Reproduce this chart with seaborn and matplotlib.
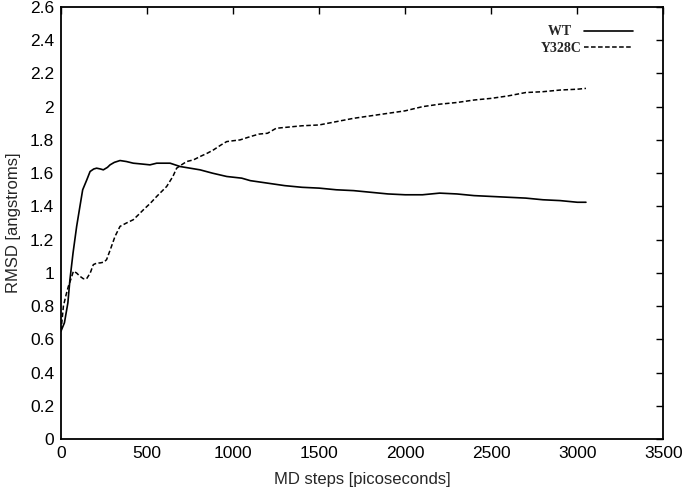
import pandas as pd
import matplotlib as mpl
mpl.use("Agg")
import matplotlib.pyplot as plt
import seaborn as sns

# RMSD traces (picoseconds, angstroms)
wt_t = [0, 20, 40, 52, 70, 91, 110, 126, 150, 169, 190, 207, 230, 246, 270, 285,
        310, 343, 380, 420, 470, 517, 556, 600, 634, 692, 750, 808, 880, 963, 1050,
        1100, 1200, 1300, 1400, 1500, 1600, 1700, 1800, 1900, 2000, 2100, 2200,
        2300, 2400, 2500, 2600, 2700, 2800, 2900, 3000, 3050]
wt_rmsd = [0.65, 0.70, 0.82, 0.96, 1.12, 1.28, 1.40, 1.50, 1.56, 1.61, 1.625, 1.63,
           1.625, 1.62, 1.635, 1.65, 1.665, 1.676, 1.67, 1.66, 1.655, 1.65, 1.66,
           1.66, 1.66, 1.64, 1.63, 1.62, 1.60, 1.58, 1.57, 1.555, 1.54, 1.525,
           1.515, 1.51, 1.50, 1.495, 1.485, 1.475, 1.47, 1.47, 1.48, 1.475, 1.465,
           1.46, 1.455, 1.45, 1.44, 1.435, 1.425, 1.425]

mut_t = [0, 14, 30, 43, 60, 72, 90, 110, 130, 149, 170, 188, 210, 227, 250, 265,
         290, 314, 343, 380, 420, 450, 479, 520, 556, 614, 650, 672, 700, 730, 770,
         808, 850, 886, 930, 963, 1000, 1040, 1100, 1150, 1200, 1250, 1300, 1400,
         1500, 1600, 1700, 1800, 1900, 2000, 2100, 2200, 2300, 2400, 2500, 2600,
         2700, 2800, 2900, 3000, 3050]
mut_rmsd = [0.65, 0.80, 0.87, 0.92, 0.97, 1.01, 1.00, 0.98, 0.965, 0.965, 1.00, 1.05,
            1.06, 1.06, 1.065, 1.08, 1.15, 1.22, 1.28, 1.30, 1.32, 1.35, 1.38, 1.42,
            1.46, 1.52, 1.58, 1.63, 1.65, 1.67, 1.68, 1.70, 1.72, 1.74, 1.77, 1.79,
            1.795, 1.80, 1.82, 1.835, 1.84, 1.87, 1.875, 1.885, 1.89, 1.91, 1.93,
            1.945, 1.96, 1.975, 2.00, 2.015, 2.025, 2.04, 2.05, 2.065, 2.085, 2.09,
            2.10, 2.105, 2.11]

df_wt = pd.DataFrame({"t": wt_t, "rmsd": wt_rmsd})
df_mut = pd.DataFrame({"t": mut_t, "rmsd": mut_rmsd})

sns.set_style("white")
plt.rcParams["font.family"] = ["Liberation Sans", "DejaVu Sans"]

fig = plt.figure(figsize=(6.83, 4.94), dpi=100)
ax = fig.add_axes([0.0893, 0.111, 0.882, 0.875])

# trailing spaces keep "WT" centred over "Y328C" like the original key
sns.lineplot(data=df_wt, x="t", y="rmsd", ax=ax, color="black", linewidth=1.2,
             label="WT   ")
sns.lineplot(data=df_mut, x="t", y="rmsd", ax=ax, color="black", linewidth=1.1,
             linestyle=(0, (3, 1.6)), label="Y328C")

ax.set_xlim(0, 3500)
ax.set_ylim(0, 2.6)
ax.set_xticks(range(0, 3501, 500))
ax.set_yticks([i * 0.2 for i in range(14)])
ax.set_yticklabels(["0", "0.2", "0.4", "0.6", "0.8", "1", "1.2", "1.4", "1.6",
                    "1.8", "2", "2.2", "2.4", "2.6"])
ax.tick_params(direction="in", length=5, width=1, top=True, right=True,
               labelsize=12.5, colors="black", pad=5)
for s in ax.spines.values():
    s.set_color("black")
    s.set_linewidth(1.3)

ax.set_xlabel("MD steps [picoseconds]", fontsize=12, labelpad=8)
ax.set_ylabel("RMSD [angstroms]", fontsize=12, labelpad=6)

ax.legend(loc="upper right", bbox_to_anchor=(0.958, 0.97), frameon=False,
          markerfirst=False, handlelength=3.5, handletextpad=0.15,
          labelspacing=0.25, borderaxespad=0,
          prop={"family": "Liberation Serif", "weight": "bold", "size": 10})

fig.savefig("out.png", dpi=100)
